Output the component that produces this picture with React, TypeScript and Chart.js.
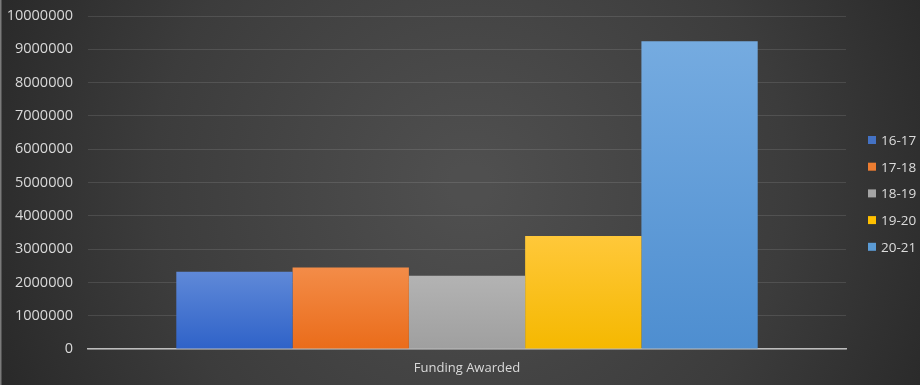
import React, { useEffect, useRef } from "react";
import { Chart, registerables } from "chart.js";

Chart.register(...registerables);

const categories = ["Funding Awarded"];
const seriesLabels = ["16-17", "17-18", "18-19", "19-20", "20-21"];
const seriesValues = [2320000, 2450000, 2200000, 3390000, 9240000];
const seriesTopColors = ["#5f89d8", "#f38c48", "#b3b3b3", "#ffc83a", "#75abe0"];
const seriesBottomColors = ["#2f62c8", "#ea6c1a", "#9f9f9f", "#f5b800", "#4e8ed0"];
const legendColors = ["#4472C4", "#ED7D31", "#A5A5A5", "#FFC000", "#5B9BD5"];
const yMin = 0;
const yMax = 10000000;
const yStep = 1000000;

const backgroundPlugin = {
  id: "bgPlugin",
  beforeDraw(chart: any) {
    const { ctx, width, height } = chart;
    ctx.save();
    const g = ctx.createRadialGradient(470, 185, 20, 470, 185, 560);
    g.addColorStop(0, "#4f4f4f");
    g.addColorStop(0.55, "#3c3c3c");
    g.addColorStop(1, "#242424");
    ctx.fillStyle = g;
    ctx.fillRect(0, 0, width, height);
    ctx.fillStyle = "#7a7a7a";
    ctx.fillRect(0, 0, 1.5, height);
    ctx.restore();
  },
};

const legendPlugin = {
  id: "customLegend",
  afterDraw(chart: any) {
    const { ctx } = chart;
    const datasets = chart.data.datasets;
    ctx.save();
    ctx.font = "13.5px 'Open Sans'";
    ctx.textBaseline = "middle";
    ctx.textAlign = "left";
    datasets.forEach((ds: any, i: number) => {
      const cy = 140 + i * 26.7;
      ctx.fillStyle = legendColors[i];
      ctx.fillRect(868, cy - 4, 8, 8);
      ctx.fillStyle = "#dcdcdc";
      ctx.fillText(ds.label, 881, cy + 1);
    });
    ctx.restore();
  },
};

export default function App() {
  const ref = useRef<HTMLCanvasElement | null>(null);

  useEffect(() => {
    if (!ref.current) return;
    const chart = new Chart(ref.current, {
      type: "bar",
      data: {
        labels: categories,
        datasets: seriesLabels.map((label, i) => ({
          label,
          data: [seriesValues[i]],
          backgroundColor: (c: any) => {
            const ch = c.chart;
            const ys = ch.scales && ch.scales.y;
            if (!ch.chartArea || !ys || c.parsed == null) return legendColors[i];
            const top = ys.getPixelForValue(c.parsed.y);
            const bottom = ys.getPixelForValue(0);
            const g = ch.ctx.createLinearGradient(0, top, 0, bottom);
            g.addColorStop(0, seriesTopColors[i]);
            g.addColorStop(1, seriesBottomColors[i]);
            return g;
          },
          borderWidth: 0,
          barPercentage: 1,
          categoryPercentage: 0.767,
        })),
      },
      options: {
        responsive: false,
        animation: false,
        layout: { padding: { top: 16, right: 74, left: 0, bottom: 0 } },
        plugins: {
          legend: { display: false },
          tooltip: { enabled: false },
        },
        scales: {
          x: {
            grid: { display: false, drawTicks: false },
            border: { display: true, color: "#bdbdbd", width: 1.5 },
            ticks: {
              color: "#d9d9d9",
              font: { family: "'Open Sans'", size: 13 },
              padding: 11,
            },
            afterFit: (s: any) => {
              s.height = 36;
              s.paddingLeft = 0;
              s.paddingRight = 0;
            },
          },
          y: {
            min: yMin,
            max: yMax,
            grid: { color: "rgba(255,255,255,0.11)", lineWidth: 1, drawTicks: false },
            border: { display: false },
            ticks: {
              stepSize: yStep,
              color: "#d9d9d9",
              font: { family: "'Open Sans'", size: 14.5 },
              padding: 15,
              callback: (v: any) => String(v),
            },
            afterFit: (s: any) => {
              s.width = 88;
              s.paddingTop = 0;
              s.paddingBottom = 0;
            },
          },
        },
      },
      plugins: [backgroundPlugin, legendPlugin],
    });
    return () => chart.destroy();
  }, []);

  return (
    <div style={{ position: "fixed", left: 0, top: 0, width: 920, height: 385 }}>
      <canvas ref={ref} width={920} height={385} />
    </div>
  );
}
